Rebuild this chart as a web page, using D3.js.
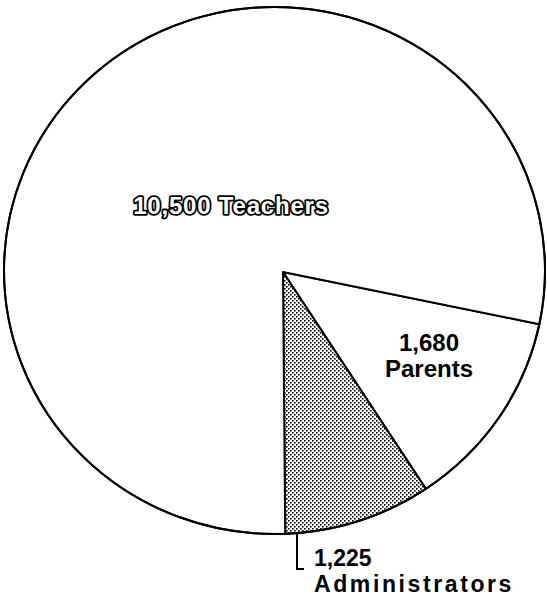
<!DOCTYPE html>
<html><head><meta charset="utf-8">
<script src="https://cdn.jsdelivr.net/npm/d3@7/dist/d3.min.js"></script>
<style>html,body{margin:0;padding:0;background:#fff;}</style>
</head><body><svg id="chart" width="547" height="598"></svg>
<script>
const categories = ["Parents", "Administrators", "Teachers"];
const values = [1680, 1225, 10500];
const valueLabels = ["1,680", "1,225", "10,500"];

const svg = d3.select("#chart");
// ellipse outline and apex
const E = {cx: 274.5, cy: 270.5, rx: 270.5, ry: 263.5};
const apex = {x: 283, y: 272};

const defs = svg.append("defs");
const pat = defs.append("pattern").attr("id","dots").attr("patternUnits","userSpaceOnUse")
  .attr("width",4).attr("height",4);
pat.append("rect").attr("width",4).attr("height",4).attr("fill","#fff");
pat.append("rect").attr("x",0).attr("y",0).attr("width",1.6).attr("height",1.6).attr("fill","#000");
pat.append("rect").attr("x",2).attr("y",2).attr("width",1.6).attr("height",1.6).attr("fill","#000");

const pie = d3.pie().sort(null).value(d => d)
  .startAngle(101.5 * Math.PI/180).endAngle(101.5 * Math.PI/180 + 2*Math.PI);
const arcs = pie(values);

function hit(theta){
  const dx = Math.sin(theta), dy = -Math.cos(theta);
  const ox = (apex.x - E.cx)/E.rx, oy = (apex.y - E.cy)/E.ry;
  const ux = dx/E.rx, uy = dy/E.ry;
  const a = ux*ux + uy*uy, b = 2*(ox*ux + oy*uy), c = ox*ox + oy*oy - 1;
  const t = (-b + Math.sqrt(b*b - 4*a*c)) / (2*a);
  return [apex.x + t*dx, apex.y + t*dy];
}

function wedge(d){
  const p0 = hit(d.startAngle), p1 = hit(d.endAngle);
  const large = (d.endAngle - d.startAngle) > Math.PI ? 1 : 0;
  const p = d3.path();
  p.moveTo(apex.x, apex.y);
  p.lineTo(p0[0], p0[1]);
  return p.toString() + `A${E.rx},${E.ry} 0 ${large} 1 ${p1[0]},${p1[1]}Z`;
}

svg.selectAll("path.slice").data(arcs).join("path")
  .attr("class","slice")
  .attr("d", wedge)
  .attr("fill", (d,i) => categories[i] === "Administrators" ? "url(#dots)" : "#fff")
  .attr("stroke", "#000").attr("stroke-width", 2).attr("stroke-linejoin","round");

// outline
svg.append("ellipse").attr("cx",E.cx).attr("cy",E.cy).attr("rx",E.rx).attr("ry",E.ry)
  .attr("fill","none").attr("stroke","#000").attr("stroke-width",2);

const font = "'Liberation Sans', Arial, Helvetica, sans-serif";

// Teachers label (outlined)
const tLabel = valueLabels[2] + " " + categories[2];
[{fill:"#000", stroke:"#000", sw:3.6}, {fill:"#fff", stroke:"none", sw:0}].forEach(s => {
  svg.append("text").attr("x", 231).attr("y", 214)
    .attr("text-anchor","middle").attr("font-family", font).attr("font-weight","bold")
    .attr("font-size", 24).attr("letter-spacing", 0.8)
    .attr("fill", s.fill).attr("stroke", s.stroke).attr("stroke-width", s.sw)
    .attr("stroke-linejoin","round")
    .text(tLabel);
});

// Parents label
const pl = svg.append("text").attr("text-anchor","middle").attr("font-family", font)
  .attr("font-weight","bold").attr("font-size", 24).attr("fill","#000");
pl.append("tspan").attr("x", 429).attr("y", 351).text(valueLabels[0]);
pl.append("tspan").attr("x", 429).attr("y", 377).text(categories[0]);

// Administrators label with bracket
svg.append("path").attr("d", d3.line()([[297, hit(Math.PI*0.99)[1]], [297, 569], [304, 569]]))
  .attr("fill","none").attr("stroke","#000").attr("stroke-width",2);
svg.append("text").attr("font-family", font)
  .attr("font-weight","bold").attr("font-size", 23).attr("fill","#000")
  .attr("x", 314).attr("y", 566).text(valueLabels[1]);
svg.append("text").attr("font-family", font)
  .attr("font-weight","bold").attr("font-size", 23).attr("fill","#000")
  .attr("x", 314).attr("y", 592).attr("letter-spacing", 2.6).text(categories[1]);
</script></body></html>
